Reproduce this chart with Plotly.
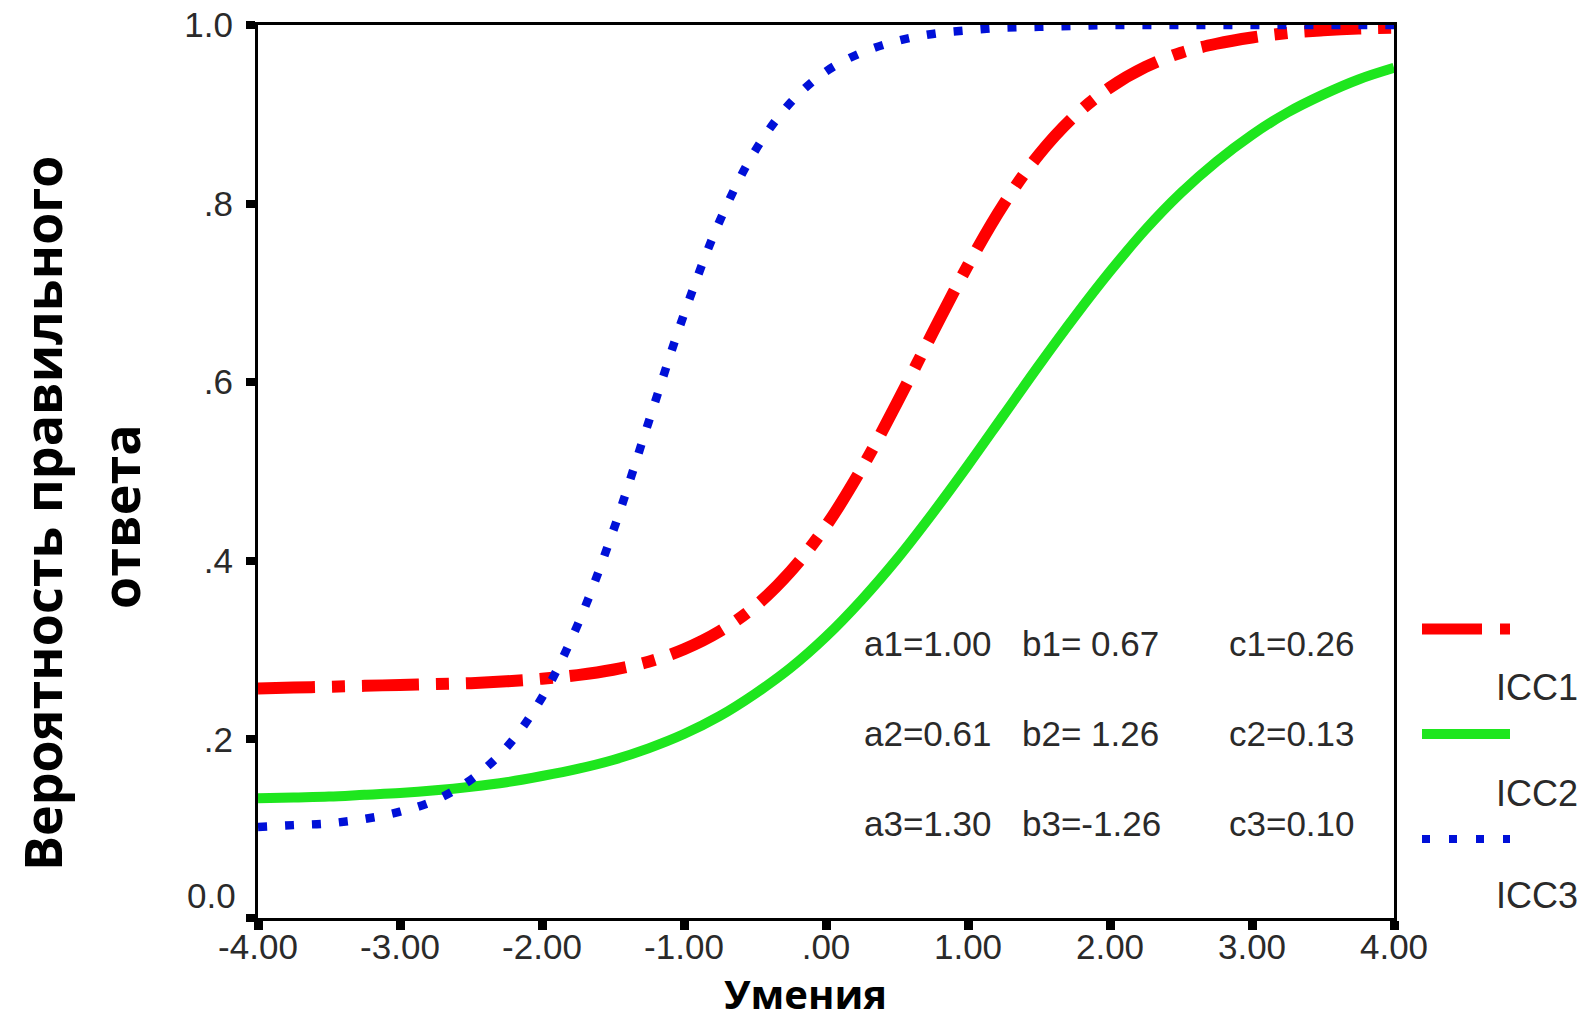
import plotly.graph_objects as go

# ---- data ----
theta = [-4.00, -3.75, -3.50, -3.25, -3.00, -2.75, -2.50, -2.25, -2.00, -1.75, -1.50,
         -1.25, -1.00, -0.75, -0.50, -0.25, 0.00, 0.25, 0.50, 0.75, 1.00, 1.25,
         1.50, 1.75, 2.00, 2.25, 2.50, 2.75, 3.00, 3.25, 3.50, 3.75, 4.00]

icc1 = [0.257, 0.258, 0.259, 0.260, 0.261, 0.262, 0.263, 0.265, 0.268, 0.272, 0.278,
        0.287, 0.301, 0.321, 0.349, 0.388, 0.439, 0.503, 0.577, 0.655, 0.731, 0.799,
        0.855, 0.898, 0.930, 0.953, 0.969, 0.979, 0.986, 0.991, 0.994, 0.996, 0.997]

icc2 = [0.134, 0.135, 0.136, 0.138, 0.140, 0.143, 0.147, 0.152, 0.159, 0.167, 0.177,
        0.190, 0.206, 0.226, 0.251, 0.280, 0.315, 0.356, 0.402, 0.453, 0.507, 0.563,
        0.619, 0.673, 0.724, 0.771, 0.812, 0.847, 0.877, 0.902, 0.922, 0.939, 0.952]

icc3 = [0.102, 0.104, 0.106, 0.111, 0.119, 0.132, 0.155, 0.191, 0.247, 0.328, 0.433,
        0.555, 0.676, 0.780, 0.859, 0.913, 0.948, 0.969, 0.982, 0.990, 0.994, 0.997,
        0.998, 0.999, 1.000, 1.000, 1.000, 1.000, 1.000, 1.000, 1.000, 1.000, 1.000]

series_names = ["ICC1", "ICC2", "ICC3"]
series_colors = ["#ff0000", "#1ee61e", "#0010d8"]

x_tickvals = [-4, -3, -2, -1, 0, 1, 2, 3, 4]
x_ticktext = ["-4.00", "-3.00", "-2.00", "-1.00", ".00", "1.00", "2.00", "3.00", "4.00"]
y_tickvals = [0.0, 0.2, 0.4, 0.6, 0.8, 1.0]
y_ticktext = ["", ".2", ".4", ".6", ".8", "1.0"]

param_rows = [
    ["a1=1.00", "b1= 0.67", "c1=0.26"],
    ["a2=0.61", "b2= 1.26", "c2=0.13"],
    ["a3=1.30", "b3=-1.26", "c3=0.10"],
]

x_title = "Умения"
y_title_lines = ["Вероятность правильного", "ответа"]

# ---- figure ----
W, H = 1587, 1023
L, R, T, B = 258, 193, 25, 105
pw, ph = W - L - R, H - T - B


def px_x(p):
    return (p - L) / pw


def px_y(p):
    return (H - B - p) / ph


fig = go.Figure()
dashes = ["57px,17px,13px,17px", "solid", "9px,18px"]
widths = [12, 10, 8.5]
for name, ys, col, d, w in zip(series_names, [icc1, icc2, icc3], series_colors, dashes, widths):
    fig.add_trace(go.Scatter(x=theta, y=ys, mode="lines", name=name,
                             line=dict(color=col, width=w, dash=d, shape="spline"),
                             showlegend=False))

tick_font = dict(family="Liberation Sans, Arial, sans-serif", size=35, color="#2a2a2a")

fig.update_xaxes(range=[-4, 4], tickvals=x_tickvals, ticktext=x_ticktext,
                 showgrid=False, zeroline=False, showline=True, linecolor="black",
                 linewidth=3, mirror=True, ticks="outside", ticklen=9, tickwidth=9,
                 tickcolor="black", tickfont=tick_font, ticklabelstandoff=-13,
                 automargin=False)
fig.update_yaxes(range=[0, 1], tickvals=y_tickvals, ticktext=y_ticktext,
                 showgrid=False, zeroline=False, showline=True, linecolor="black",
                 linewidth=3, mirror=True, ticks="outside", ticklen=9, tickwidth=8,
                 tickcolor="black", tickfont=tick_font, ticklabelstandoff=6,
                 automargin=False)

annotations = []
# 0.0 label (raised, as in the original)
annotations.append(dict(text="0.0", x=px_x(238), y=px_y(895), xref="paper", yref="paper",
                        xanchor="right", yanchor="middle", showarrow=False, font=tick_font))
# parameter text
col_px = [862, 1020, 1227]
row_py = [643, 733, 823]
for r, row in enumerate(param_rows):
    for c, txt in enumerate(row):
        annotations.append(dict(text=txt, x=px_x(col_px[c]), y=px_y(row_py[r]),
                                xref="paper", yref="paper", xanchor="left", yanchor="middle",
                                showarrow=False, font=tick_font))
# legend labels
leg_label_py = [687, 793, 895]
for name, py in zip(series_names, leg_label_py):
    annotations.append(dict(text=name, x=px_x(1537), y=px_y(py), xref="paper", yref="paper",
                            xanchor="center", yanchor="middle", showarrow=False,
                            font=dict(family="Liberation Sans, Arial, sans-serif", size=36,
                                      color="#2a2a2a")))
# axis titles
title_font_y = dict(family="Open Sans, Noto Sans, sans-serif", size=52, color="black", weight="bold")
annotations.append(dict(text=y_title_lines[0], x=px_x(41), y=px_y(514), xref="paper", yref="paper",
                        xanchor="center", yanchor="middle", showarrow=False, textangle=-90,
                        font=title_font_y))
annotations.append(dict(text=y_title_lines[1], x=px_x(119), y=px_y(517), xref="paper", yref="paper",
                        xanchor="center", yanchor="middle", showarrow=False, textangle=-90,
                        font=title_font_y))
annotations.append(dict(text=x_title, x=px_x(805), y=px_y(1022), xref="paper", yref="paper",
                        xanchor="center", yanchor="bottom", showarrow=False, borderpad=0,
                        font=dict(family="Open Sans, Noto Sans, sans-serif", size=40,
                                  color="black", weight="bold")))

# legend samples
shapes = []
leg_line_py = [629, 734, 839]
for col, d, w, py in zip(series_colors, ["60px,18px,10px,30px", "solid", "8px,19px"],
                         [11, 10, 8], leg_line_py):
    shapes.append(dict(type="line", xref="paper", yref="paper",
                       x0=px_x(1422), x1=px_x(1510), y0=px_y(py), y1=px_y(py),
                       line=dict(color=col, width=w, dash=d)))

fig.update_layout(width=W, height=H, margin=dict(l=L, r=R, t=T, b=B, autoexpand=False),
                  plot_bgcolor="white", paper_bgcolor="white",
                  annotations=annotations, shapes=shapes)

fig.write_html("out.html")
